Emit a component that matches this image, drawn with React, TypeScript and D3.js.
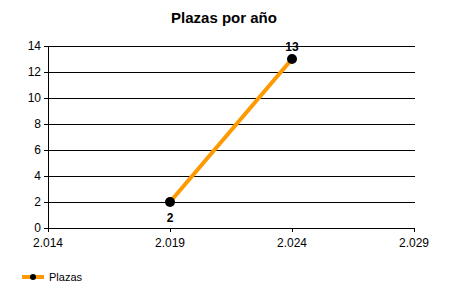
import React from "react";
import * as d3 from "d3";

const years = [2019, 2024];
const plazas = [2, 13];
const xTicks = [2014, 2019, 2024, 2029];
const xTickLabels = ["2.014", "2.019", "2.024", "2.029"];
const yTicks = [0, 2, 4, 6, 8, 10, 12, 14];
const seriesName = "Plazas";
const title = "Plazas por año";

export default function App() {
  const W = 450, H = 300;
  const x = d3.scaleLinear().domain([2014, 2029]).range([48, 414]);
  const y = d3.scaleLinear().domain([0, 14]).range([228, 46]);
  const pts = years.map((yr, i) => [x(yr), y(plazas[i])] as [number, number]);
  const line = d3.line()(pts) || "";
  const font = "'Liberation Sans', Arial, sans-serif";
  return (
    <svg width={W} height={H} style={{ position: "absolute", left: 0, top: 0 }} fontFamily={font}>
      <rect width={W} height={H} fill="#fff" />
      <text x={224} y={23} textAnchor="middle" fontWeight="bold" fontSize={15}>{title}</text>
      {yTicks.map((t) => (
        <g key={t}>
          <line x1={44} x2={x(2029) + 1} y1={Math.round(y(t)) + 0.5} y2={Math.round(y(t)) + 0.5} stroke="#000" />
          <text x={41} y={y(t) + 4} textAnchor="end" fontSize={12}>{t}</text>
        </g>
      ))}
      <line x1={48.5} x2={48.5} y1={y(14)} y2={y(0) + 4} stroke="#000" />
      {xTicks.map((t, i) => (
        <g key={t}>
          <line x1={Math.round(x(t)) + 0.5} x2={Math.round(x(t)) + 0.5} y1={y(0)} y2={y(0) + 4} stroke="#000" />
          <text x={x(t)} y={247} textAnchor="middle" fontSize={12}>{xTickLabels[i]}</text>
        </g>
      ))}
      <path d={line} stroke="#FF9900" strokeWidth={4} fill="none" />
      {pts.map((p, i) => (
        <g key={i}>
          <circle cx={p[0]} cy={p[1]} r={5} fill="#000" />
          <text x={p[0]} y={i === 0 ? p[1] + 20 : p[1] - 8} textAnchor="middle" fontWeight="bold" fontSize={12}>{plazas[i]}</text>
        </g>
      ))}
      <line x1={22} x2={44} y1={277} y2={277} stroke="#FF9900" strokeWidth={4} />
      <circle cx={33} cy={277} r={3} fill="#000" />
      <text x={49} y={281} fontSize={11}>{seriesName}</text>
    </svg>
  );
}
